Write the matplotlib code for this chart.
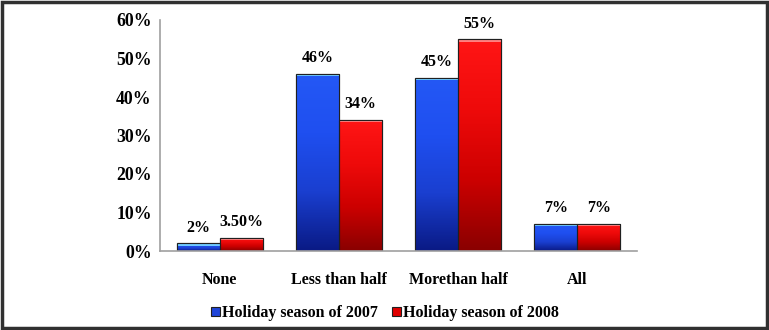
import matplotlib
matplotlib.use("Agg")
import matplotlib.pyplot as plt
import numpy as np
from matplotlib.patches import Rectangle
from matplotlib.colors import LinearSegmentedColormap

categories = ["None", "Less than half", "Morethan half", "All"]
series_names = ["Holiday season of 2007", "Holiday season of 2008"]
values_2007 = [2, 46, 45, 7]
values_2008 = [3.5, 34, 55, 7]
labels_2007 = ["2%", "46%", "45%", "7%"]
labels_2008 = ["3.50%", "34%", "55%", "7%"]
yticks = [0, 10, 20, 30, 40, 50, 60]

plt.rcParams['font.family'] = ['Liberation Serif', 'DejaVu Serif']
plt.rcParams['font.weight'] = 'bold'
FS = 11.5

fig = plt.figure(figsize=(7.69, 3.30), dpi=100)
ax = fig.add_axes([160/769, 1 - 251/330, (637-160)/769, (251-20)/330])

x = np.arange(len(categories))
w = 0.36
cmaps = [LinearSegmentedColormap.from_list("b", ["#0a1a85", "#1a3fd0", "#1f4ff0", "#2458f5"]),
         LinearSegmentedColormap.from_list("r", ["#8a0000", "#cc0000", "#ee0a0a", "#ff1515"])]
faces = ["#1f45d8", "#e00000"]
tops = ["#6ec8ff", "#ff8080"]
grad = np.linspace(0, 1, 100).reshape(-1, 1)

for i, (vals, labs) in enumerate([(values_2007, labels_2007), (values_2008, labels_2008)]):
    xs = x + (i - 0.5) * w
    bars = ax.bar(xs, vals, width=w, color=faces[i], edgecolor="#202020", linewidth=0.8,
                  label=series_names[i], zorder=2)
    for b, lab in zip(bars, labs):
        x0, y0, bw, bh = b.get_x(), b.get_y(), b.get_width(), b.get_height()
        im = ax.imshow(grad, cmap=cmaps[i], origin="lower", aspect="auto",
                       extent=[x0, x0 + bw, y0, y0 + bh], zorder=2.1)
        im.set_clip_path(b)
        ax.add_patch(Rectangle((x0, y0 + bh - 0.6), bw, 0.6, color=tops[i], zorder=2.2, lw=0))
        ax.add_patch(Rectangle((x0, y0), bw, bh, fill=False, edgecolor="#202020", lw=0.8, zorder=2.3))
        ax.text(x0 + bw / 2, y0 + bh + 2.0, lab, ha="center", va="bottom",
                fontsize=FS, fontweight="bold", zorder=3)

ax.set_xlim(-0.5, 3.5)
ax.set_ylim(0, 60)
ax.set_yticks(yticks)
ax.set_yticklabels([f"{t}%" for t in yticks], fontsize=12.8, fontweight="bold")
ax.set_xticks(x)
ax.set_xticklabels(categories, fontsize=FS, fontweight="bold")
ax.tick_params(axis="both", length=0)
ax.tick_params(axis="y", pad=6)
ax.tick_params(axis="x", pad=15)
for s in ["top", "right"]:
    ax.spines[s].set_visible(False)
for s in ["left", "bottom"]:
    ax.spines[s].set_color("#a0a0a0")
    ax.spines[s].set_linewidth(1.2)

leg = fig.legend(handles=[ax.containers[0], ax.containers[1]],
                 labels=series_names, loc="center", bbox_to_anchor=(385/769, 1 - 313/330),
                 ncol=2, frameon=False, fontsize=FS, handlelength=0.55, handleheight=0.55,
                 handletextpad=0.15, columnspacing=0.9)

fig.patches.append(Rectangle((0.003, 0.006), 0.994, 0.988, transform=fig.transFigure,
                             fill=False, edgecolor="#303030", linewidth=2.5))

fig.savefig("out.png", dpi=100)
